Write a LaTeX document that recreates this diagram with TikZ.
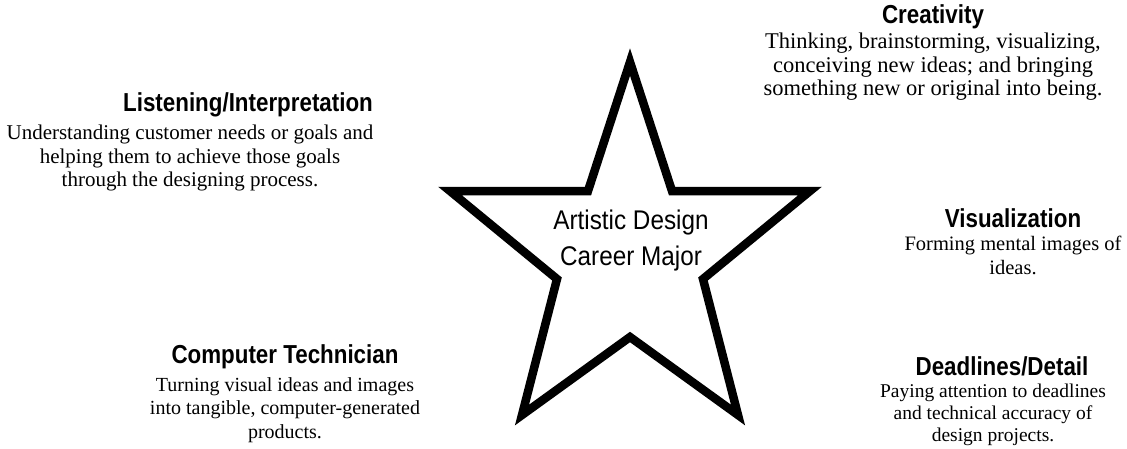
\documentclass[tikz,border=0pt]{standalone}
\usepackage{fontspec}
\setmainfont{Liberation Serif}
\newfontfamily\headfont{Liberation Sans Bold}[FakeStretch=0.86]
\newfontfamily\starfont{Liberation Sans}[FakeStretch=0.9]
\usetikzlibrary{positioning}
\tikzset{
  skillhead/.style= {
    inner sep = 0pt,
    font = \headfont\fontsize{26}{30}\selectfont
  },
  skilltext/.style= {
    inner sep = 0pt,
    align = center,
    anchor = north,
    font = \fontsize{#1}{23.5}\selectfont
  },
  skilltext/.default = 20.5,
  starlabel/.style= {
    inner sep = 0pt,
    align = center,
    font = \starfont\fontsize{27}{36}\selectfont
  },
  starline/.style= {
    draw = black,
    line width = 8.5pt,
    line join = miter
  }
}

\begin{document}
\begin{tikzpicture}[x=1pt,y=-1pt]
  \useasboundingbox (0,0) rectangle (1127,448);

  % the star
  \draw[starline] (630,62) -- (672,191) -- (810,191) -- (703,279) -- (738,415)
    -- (630,337) -- (522,415) -- (557,279) -- (450,191) -- (588,191) -- cycle;
  \node[starlabel] (major) at (631,241) {Artistic Design\\Career Major};

  % creativity
  \node[skilltext=22.5] (creatext) at (933,33) {Thinking, brainstorming, visualizing,\\
    conceiving new ideas; and bringing\\something new or original into being.};
  \node[skillhead,above=4pt of creatext] (creahead) {Creativity};

  % listening
  \node[skilltext=21] (listtext) at (190,125) {Understanding customer needs or goals and\\
    helping them to achieve those goals\\through the designing process.};
  \node[skillhead,above=8pt of listtext,xshift=58pt] (listhead) {Listening/Interpretation};

  % visualization
  \node[skilltext] (vistext) at (1013,236) {Forming mental images of\\ideas.};
  \node[skillhead,above=8pt of vistext] (vishead) {Visualization};

  % computer
  \node[skilltext=20] (comptext) at (285,377) {Turning visual ideas and images\\
    into tangible, computer-generated\\products.};
  \node[skillhead,above=8pt of comptext] (comphead) {Computer Technician};

  % deadlines
  \node[skilltext=19.5,font=\fontsize{19.5}{22}\selectfont] (deadtext) at (993,384) {Paying attention to deadlines\\
    and technical accuracy of\\design projects.};
  \node[skillhead,above=8pt of deadtext,xshift=9pt] (deadhead) {Deadlines/Detail};

\end{tikzpicture}
\end{document}
